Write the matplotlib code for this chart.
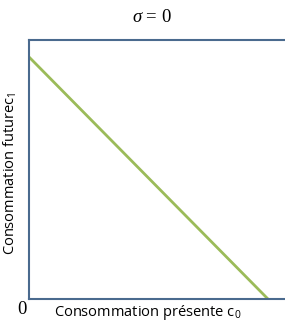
import matplotlib
matplotlib.use("Agg")
import matplotlib.pyplot as plt

plt.rcParams["font.family"] = ["Open Sans", "DejaVu Sans"]
plt.rcParams["mathtext.fontset"] = "custom"
plt.rcParams["mathtext.rm"] = "Open Sans"
plt.rcParams["mathtext.it"] = "Liberation Serif:italic"

# budget line: present consumption c0 vs future consumption c1
c0 = [0.0, 0.934]
c1 = [0.934, 0.0]

title = r"$\sigma$ = 0"
xlabel = r"Consommation présente c$_\mathrm{0}$"
ylabel = r"Consommation futurec$_\mathrm{1}$"

fig = plt.figure(figsize=(2.85, 3.22), dpi=100)
ax = fig.add_axes([0.102, 0.071, 0.898, 0.805])

ax.plot(c0, c1, color="#9bbb59", linewidth=2)
ax.set_xlim(0, 1)
ax.set_ylim(0, 1)
ax.set_xticks([])
ax.set_yticks([])

spine_col = "#4a6a8e"
for s in ["left", "top", "bottom"]:
    ax.spines[s].set_color(spine_col)
    ax.spines[s].set_linewidth(1.5)
ax.spines["right"].set_visible(False)

fig.text(152 / 285, 1 - 17 / 322, title, ha="center", va="center",
         fontsize=13.5, family=["Liberation Serif"])
fig.text(22 / 285, 1 - 309 / 322, "0", ha="center", va="center",
         fontsize=13.5, family=["Liberation Serif"])
fig.text(148 / 285, 1 - 312 / 322, xlabel, ha="center", va="center",
         fontsize=10.5)
fig.text(10 / 285, 1 - 173 / 322, ylabel, ha="center", va="center",
         fontsize=10.5, rotation=90)

fig.savefig("out.png", dpi=100)
